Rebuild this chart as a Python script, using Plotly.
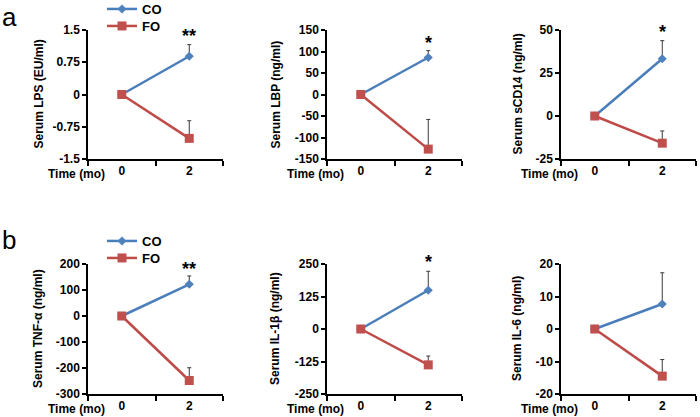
import plotly.graph_objects as go

# ---------------- data ----------------
times = ["0", "2"]
series_names = ["CO", "FO"]
y_titles = ["Serum LPS (EU/ml)", "Serum LBP (ng/ml)", "Serum sCD14 (ng/ml)",
            "Serum TNF-α (ng/ml)", "Serum IL-1β (ng/ml)", "Serum IL-6 (ng/ml)"]
co_values = [[0, 0.89], [0, 86], [0, 33.3], [0, 122], [0, 149], [0, 7.7]]
co_errors = [[0, 0.27], [0, 16], [0, 10.5], [0, 32], [0, 73], [0, 9.6]]
fo_values = [[0, -1.02], [0, -127], [0, -15.8], [0, -248], [0, -138], [0, -14.5]]
fo_errors = [[0, 0.41], [0, 69], [0, 7.1], [0, 49], [0, 34], [0, 5.1]]
y_ranges = [[-1.5, 1.5], [-150, 150], [-25, 50], [-300, 200], [-250, 250], [-20, 20]]
y_tickvals = [[-1.5, -0.75, 0, 0.75, 1.5],
              [-150, -100, -50, 0, 50, 100, 150],
              [-25, 0, 25, 50],
              [-300, -200, -100, 0, 100, 200],
              [-250, -125, 0, 125, 250],
              [-20, -10, 0, 10, 20]]
y_ticktext = [["-1.5", "-0.75", "0", "0.75", "1.5"],
              ["-150", "-100", "-50", "0", "50", "100", "150"],
              ["-25", "0", "25", "50"],
              ["-300", "-200", "-100", "0", "100", "200"],
              ["-250", "-125", "0", "125", "250"],
              ["-20", "-10", "0", "10", "20"]]
significance = ["**", "*", "*", "**", "*", ""]
panel_letters = ["a", "b"]
x_title = "Time (mo)"

# ---------------- layout helpers (pixel geometry) ----------------
W, H = 700, 417
col_px = [(88, 223), (327, 462), (561, 696)]
row_px = [(30, 159), (264, 394)]
ytitle_x_px = [38, 275, 517]
star_dom = [0.95, 0.90, 0.985, 0.96, 1.015, 0]
legend_y_px = [[9, 26], [241, 258]]
letter_y_px = [0, 223]

FONT = "Liberation Sans, Arial, sans-serif"
BLUE = "#4A7EBB"
BLUE_M = "#4F81BD"
RED = "#BE4B48"
RED_M = "#C0504D"
ERR = "#3a3a3a"

fig = go.Figure()
annotations = []
legend_ids = [["legend", "legend2"], ["legend3", "legend4"]]

for i in range(6):
    r, c = divmod(i, 3)
    k = i + 1
    xa = "x" if k == 1 else f"x{k}"
    ya = "y" if k == 1 else f"y{k}"
    show = (c == 0)
    fig.add_trace(go.Scatter(
        x=times, y=co_values[i], name=series_names[0], xaxis=xa, yaxis=ya,
        mode="lines+markers", line=dict(color=BLUE, width=2.5),
        marker=dict(symbol="diamond", size=7, color=BLUE_M),
        error_y=dict(type="data", array=co_errors[i], arrayminus=[0, 0],
                     symmetric=False, color=ERR, thickness=1, width=2),
        showlegend=show, legend=legend_ids[r][0], cliponaxis=False))
    fig.add_trace(go.Scatter(
        x=times, y=fo_values[i], name=series_names[1], xaxis=xa, yaxis=ya,
        mode="lines+markers", line=dict(color=RED, width=2.5),
        marker=dict(symbol="square", size=9, color=RED_M),
        error_y=dict(type="data", array=fo_errors[i], arrayminus=[0, 0],
                     symmetric=False, color=ERR, thickness=1, width=2),
        showlegend=show, legend=legend_ids[r][1], cliponaxis=False))

    x0, x1 = col_px[c]
    yt, yb = row_px[r]
    xdom = [x0 / W, x1 / W]
    ydom = [1 - yb / H, 1 - yt / H]
    axis_common = dict(showline=True, linecolor="black", linewidth=1.5,
                       showgrid=False, zeroline=False, ticks="outside",
                       tickcolor="black", tickwidth=1.5, automargin=False,
                       tickfont=dict(family=FONT, size=12, color="black", weight="bold"))
    fig.layout[("xaxis" if k == 1 else f"xaxis{k}")] = dict(
        domain=xdom, anchor=ya, type="category", range=[-0.5, 1.5],
        tickson="boundaries", ticklen=5, **axis_common)
    fig.layout[("yaxis" if k == 1 else f"yaxis{k}")] = dict(
        domain=ydom, anchor=xa, range=y_ranges[i], tickvals=y_tickvals[i],
        ticktext=y_ticktext[i], ticklen=4, **axis_common)

    # y-axis title
    annotations.append(dict(
        text=y_titles[i], textangle=-90, xref="paper", yref="paper",
        x=ytitle_x_px[c] / W, y=1 - (yt + yb) / 2 / H, xanchor="center",
        yanchor="middle", showarrow=False,
        font=dict(family=FONT, size=12, color="black", weight="bold")))
    # x-axis title
    annotations.append(dict(
        text=x_title, xref="paper", yref="paper",
        x=(x0 + 19) / W, y=1 - (yb + 15) / H, xanchor="right", yanchor="middle",
        showarrow=False,
        font=dict(family=FONT, size=12, color="black", weight="bold")))
    # significance stars
    if significance[i]:
        annotations.append(dict(
            text=significance[i], xref=xa, yref=f"{ya} domain",
            x=1, y=star_dom[i], xanchor="center", yanchor="middle",
            showarrow=False,
            font=dict(family=FONT, size=18, color="black", weight="bold")))

# panel letters
for r in range(2):
    annotations.append(dict(text=panel_letters[r], xref="paper", yref="paper",
                            x=0, y=1 - letter_y_px[r] / H, xanchor="left", yanchor="top",
                            showarrow=False, font=dict(family=FONT, size=26, color="black")))

legend_style = dict(bgcolor="rgba(0,0,0,0)", borderwidth=0, tracegroupgap=0,
                    font=dict(family=FONT, size=13, color="black", weight="bold"),
                    xanchor="left", yanchor="middle", itemwidth=30)
legends = {}
for r in range(2):
    for s in range(2):
        legends[legend_ids[r][s]] = dict(x=102 / W, y=1 - legend_y_px[r][s] / H, **legend_style)

fig.update_layout(
    width=W, height=H, margin=dict(l=0, r=0, t=0, b=0, autoexpand=False),
    paper_bgcolor="white", plot_bgcolor="white",
    annotations=annotations,
    **legends,
)

fig.write_html("out.html", config={"displayModeBar": False},
               post_script="document.body.style.margin='0';document.body.style.padding='0';")
